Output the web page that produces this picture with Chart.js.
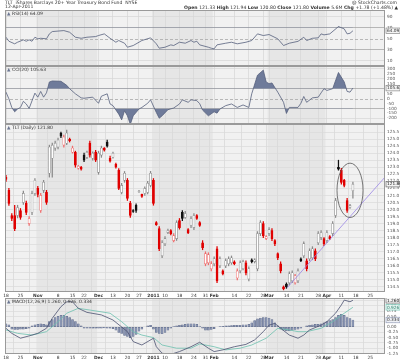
<!DOCTYPE html>
<html>
<head>
<meta charset="utf-8">
<script src="https://cdn.jsdelivr.net/npm/chart.js@4.4.1/dist/chart.umd.min.js"></script>
<style>
  html, body { margin: 0; padding: 0; background: #fff; }
  #wrap { position: relative; width: 400px; height: 361px; overflow: hidden; }
  #wrap canvas { position: absolute; left: 0; }
</style>
</head>
<body>
<div id="wrap">
  <canvas id="rsi" width="400" height="66" style="top:0px"></canvas>
  <canvas id="cci" width="400" height="58" style="top:66px"></canvas>
  <canvas id="price" width="400" height="175" style="top:124px"></canvas>
  <canvas id="macd" width="400" height="63" style="top:298px"></canvas>
</div>
<script>
// === TLT daily: RSI / CCI / candles / MACD ===

const F = '"DejaVu Sans", Arial, sans-serif';

// date axis (trading-day index -> label)
const tickIdx = [0, 5, 11, 18, 23, 27, 32, 37, 42, 46, 51, 55, 60, 65, 69, 72, 79, 84, 89, 91, 97, 102, 108, 111, 116, 121, 126];
const tickLabels = ['18', '25', 'Nov', '8', '15', '22', 'Dec', '13', '20', '27', '2011', '10', '18', '24', '31', 'Feb', '14', '22', '28', 'Mar', '14', '21', '28', 'Apr', '11', '18', '25'];
const monthIdx = [11, 32, 51, 72, 91, 111];

// daily candles
const opens = [122.29,121.36,119.57,119.57,119.57,119.93,120.50,120.43,119.00,119.79,121.14,121.50,119.93,121.36,121.21,122.57,123.64,124.36,124.43,125.43,124.57,124.71,125.00,124.07,124.07,122.93,123.00,123.86,123.71,124.71,123.64,124.07,122.64,123.86,124.36,124.79,123.64,123.71,123.21,122.79,121.21,122.07,122.07,120.43,119.93,120.29,121.25,121.07,121.14,121.21,121.71,122.07,119.07,118.64,116.71,117.57,118.36,118.50,117.79,117.93,119.21,119.79,119.43,118.57,118.86,118.71,119.57,119.07,117.64,116.14,116.21,115.79,116.14,117.21,116.00,115.64,116.00,116.14,116.21,116.29,115.14,115.64,115.79,116.21,115.07,116.43,116.30,115.79,118.29,119.00,117.93,118.29,118.50,117.79,116.86,116.14,114.50,114.71,114.79,114.93,114.79,114.93,116.50,116.71,116.36,116.50,116.57,117.07,117.64,118.00,117.93,117.79,118.07,118.29,119.57,123.00,122.79,122.07,120.64,120.14,121.33];
const highs = [122.43,121.50,119.70,120.29,120.30,120.07,121.30,120.60,119.50,121.30,122.20,121.64,121.14,122.07,121.36,124.57,124.71,124.86,125.07,125.50,125.29,125.64,125.07,124.50,124.14,123.14,123.07,124.00,124.14,124.86,124.10,124.20,124.14,124.50,124.40,124.93,123.79,124.07,123.30,122.90,121.86,122.70,122.20,120.57,120.00,120.40,121.36,121.10,121.60,122.00,122.71,122.20,119.14,118.79,117.79,118.07,118.60,118.57,118.29,119.20,119.36,119.93,119.86,118.64,119.50,119.71,119.64,119.14,117.79,117.00,116.93,116.30,116.64,117.36,116.64,115.71,116.50,116.64,116.70,116.36,115.79,116.36,116.40,116.36,115.93,116.50,116.50,118.43,119.21,119.14,118.14,118.71,118.64,117.86,116.93,116.29,114.57,114.79,115.57,115.64,115.40,115.79,116.57,117.71,116.50,117.21,117.36,117.21,118.43,118.50,118.00,118.50,118.14,119.14,120.79,123.50,122.93,122.14,120.79,120.36,121.94];
const lows = [122.00,120.29,119.20,118.50,119.40,119.30,120.36,119.64,118.86,119.64,121.00,120.90,119.79,121.20,120.36,122.30,122.29,124.20,124.30,125.10,124.43,124.60,124.79,124.00,123.00,122.86,122.79,123.40,123.60,123.71,123.50,123.40,122.50,123.70,124.14,124.43,123.36,123.64,122.93,121.40,121.10,121.93,120.64,119.43,119.79,119.80,121.21,120.86,121.00,121.10,121.60,120.30,118.86,117.07,116.57,117.43,118.29,118.20,117.70,117.80,118.60,119.20,119.36,118.29,118.71,118.57,119.29,118.79,117.14,116.00,116.07,115.64,116.00,114.80,115.86,115.36,115.86,116.00,116.10,116.07,115.00,115.50,115.70,115.36,114.93,116.20,116.20,115.64,118.14,118.00,117.86,118.14,117.79,117.43,116.43,115.50,114.29,114.40,114.64,114.80,114.70,114.80,116.29,116.57,115.64,116.36,116.43,116.36,117.50,117.86,117.43,117.64,117.86,118.14,119.43,122.79,121.80,121.60,119.79,120.07,120.80];
const closes = [122.14,120.43,119.36,118.64,120.14,119.43,121.14,119.79,119.36,121.14,122.07,121.07,121.00,121.93,120.50,124.43,124.57,124.71,124.93,125.21,125.14,125.43,124.86,124.36,123.14,123.07,122.86,123.50,124.07,123.86,124.00,123.50,124.00,124.36,124.21,124.50,123.43,124.00,123.00,121.50,121.71,122.57,120.79,119.57,119.86,119.93,121.30,120.93,121.50,121.86,122.57,120.43,118.93,117.21,117.64,117.93,118.50,118.29,118.14,119.07,118.71,119.36,119.71,118.36,119.36,119.57,119.36,118.86,117.29,116.86,116.79,116.14,116.50,114.93,116.50,115.43,116.36,116.50,116.57,116.14,115.64,116.21,116.30,115.50,115.79,116.30,116.43,118.29,119.07,118.14,118.07,118.57,117.93,117.57,116.57,115.64,114.36,114.50,115.43,115.50,115.29,115.64,116.36,117.57,115.79,117.07,117.21,116.50,118.29,118.36,117.57,118.36,117.93,119.00,120.64,122.86,121.93,121.71,119.93,120.29,121.80];

// trend line under the April rally
const trendIdx = [97.2, 131.1];
const trendVal = [114.43, 122.3];

// RSI(14)
const rsiDay = [0,1,3,4,6,7,8,9,10,11,12,14,15,16,20,22,24,26,28,31,32,34,36,38,39,41,42,44,46,47,50,52,53,55,57,58,60,62,64,65,66,67,70,71,72,73,76,78,80,83,85,87,89,91,94,96,98,101,103,104,106,108,109,110,112,115,117,118,119,120];
const rsiVal = [52.4,45.1,40.4,43.3,47.6,45.1,47.6,45.1,52.4,49.5,50.5,49.5,58.5,62.7,64.5,61.5,52.4,50.5,52.4,53.6,55.5,58.5,50.5,43.3,46.4,41.5,34.2,37.3,43.3,46.4,51.3,40.4,32.4,34.2,38.5,37.3,43.3,41.5,46.4,43.3,45.1,38.5,34.2,32.4,31.3,38.5,41.5,43.3,40.4,43.3,46.4,58.5,55.5,57.3,49.5,37.3,41.5,44.9,52.4,46.4,50.5,51.3,58.5,56.7,58.5,71.8,67.6,58.5,59.6,64.1];
const rsiTicks = [10, 30, 50, 70, 90];

// CCI(20)
const cciDay = [0,1,2,3,4,5,6,7,8,10,11,12,13,14,15,16,19,21,22,24,26,27,30,32,33,35,36,37,39,40,41,42,43,44,46,47,49,50,52,53,54,56,58,60,61,63,64,66,67,68,70,72,73,74,76,78,80,82,84,85,87,89,90,91,92,94,96,97,98,101,102,103,104,106,108,109,110,111,113,115,117,118,119,120];
const cciVal = [65,-3,-90,-134,-106,-90,-28,-55,-100,55,14,72,14,58,168,178,175,134,100,48,7,3,14,-48,24,48,-55,-72,-158,-216,-124,-175,-261,-175,-106,-90,-48,-13,-141,-199,-175,-113,-96,-55,-13,-38,-13,-21,-52,-117,-175,-134,-148,-106,-72,-55,-90,-65,-90,48,237,288,168,151,158,65,-38,-151,-90,-90,-48,21,-38,7,14,58,100,82,100,264,168,72,65,106];
const cciTicks = [-200, -150, -100, -50, 0, 50, 100, 150, 200, 250, 300];

// MACD(12,26,9)
const macdDay = [0,2,5,8,11,14,16,19,21,23,25,28,33,37,42,44,47,51,52,54,57,60,64,67,70,72,75,79,83,86,89,91,93,95,98,101,103,105,109,111,114,116,117,119,120];
const macdVal = [-0.06,-0.3,-0.53,-0.42,-0.3,-0.06,0.41,0.96,1.19,1.19,0.88,0.69,0.57,0.33,-0.22,-0.69,-0.85,-0.53,-0.93,-1.24,-1.29,-1.16,-0.93,-0.72,-1.0,-1.16,-1.08,-0.93,-0.82,-0.61,-0.22,0.09,0.17,-0.06,-0.38,-0.53,-0.38,-0.14,0.09,0.25,0.65,1.04,1.27,1.19,1.26];
const sigDay = [0,4,9,14,18,21,25,29,36,40,44,47,51,54,59,64,67,72,76,81,85,90,94,98,101,104,109,113,117,120];
const sigVal = [-0.14,-0.3,-0.38,-0.22,0.25,0.65,0.88,0.8,0.65,0.25,-0.22,-0.38,-0.5,-0.85,-1.0,-1.0,-0.8,-0.93,-1.08,-1.0,-0.85,-0.53,-0.06,-0.14,-0.22,-0.22,-0.06,0.25,0.65,0.93];
const histVal = [0.15,0.1,
  -0.1,-0.12,-0.12,-0.1,-0.1,-0.08,-0.05,
  0.05,0.1,0.12,0.15,0.12,0.1,
  0.25,0.35,0.45,0.5,0.55,0.55,0.5,0.45,
  0.35,0.25,0.15,0.05,
  -0.05,-0.05,-0.05,-0.06,-0.06,-0.05,-0.05,-0.04,-0.05,-0.06,-0.08,
  -0.15,-0.25,-0.3,-0.4,-0.45,-0.5,-0.45,-0.35,
  -0.2,-0.1,0,0.05,0.08,
  -0.1,-0.25,-0.3,-0.32,-0.25,-0.15,
  -0.05,0.02,0.05,0.08,0.1,0.12,0.15,0.15,0.15,0.12,
  0.02,-0.05,-0.15,-0.15,-0.12,-0.08,
  0,0.02,0.03,0.05,0.06,0.07,0.08,0.08,0.08,0.1,0.1,0.12,
  0.2,0.3,0.38,0.42,0.45,0.45,0.42,0.35,0.2,0.05,
  -0.1,-0.15,-0.18,-0.18,-0.15,-0.12,-0.1,
  -0.05,0,0.05,0.08,0.1,0.12,0.12,0.15,
  0.2,0.25,0.3,0.35,0.45,0.55,0.6,0.55,0.45,0.4,0.33];
const macdTicks = [-1.25, -1.0, -0.75, -0.5, -0.25, 0, 0.25, 0.5, 0.75, 1.0, 1.25];

// ---------------------------------------------------------------
const X_MIN = -0.35, X_MAX = 131.1;
const days = closes.map((_, i) => i);
const pts = (xs, ys) => xs.map((x, i) => ({ x, y: ys[i] }));

const upDay = closes.map((c, i) => c >= (i ? closes[i - 1] : opens[i]));
const hollow = closes.map((c, i) => c > opens[i]);
const edge = upDay.map((u, i) => u ? (hollow[i] ? '#8a8a8a' : '#111111') : (hollow[i] ? '#ef6b6b' : '#e00000'));

// panel background, month bands, label, value boxes
const panelPlugin = {
  id: 'panel',
  beforeDraw(chart, args, o) {
    const { ctx, chartArea: a, scales: { x } } = chart;
    ctx.save();
    ctx.fillStyle = '#f1f1f1';
    ctx.fillRect(a.left, a.top, a.width, a.height);
    ctx.fillStyle = '#e6e6e6';
    for (let k = 0; k + 1 < monthIdx.length; k += 2) {
      const x0 = x.getPixelForValue(monthIdx[k] - 0.5);
      const x1 = x.getPixelForValue(monthIdx[k + 1] - 0.5);
      ctx.fillRect(x0, a.top, x1 - x0, a.height);
    }
    if (o.header) drawHeader(ctx);
    ctx.restore();
  },
  beforeDatasetsDraw(chart, args, o) {
    if (o.dashAt === undefined) return;
    const { ctx, chartArea: a, scales: { y } } = chart;
    const py = Math.round(y.getPixelForValue(o.dashAt)) + 0.5;
    ctx.save();
    ctx.strokeStyle = '#a8a8a8';
    ctx.lineWidth = 0.8;
    ctx.setLineDash([3, 2]);
    ctx.beginPath(); ctx.moveTo(a.left, py); ctx.lineTo(a.right, py); ctx.stroke();
    ctx.restore();
  },
  afterDatasetsDraw(chart, args, o) {
    if (!o.ellipse) return;
    const { ctx, scales: { x, y } } = chart;
    const e = o.ellipse;
    const cx = x.getPixelForValue(e[0]), cy = y.getPixelForValue(e[1]);
    const rx = x.getPixelForValue(e[0] + e[2]) - cx, ry = cy - y.getPixelForValue(e[1] + e[3]);
    ctx.save();
    ctx.strokeStyle = '#555';
    ctx.lineWidth = 0.8;
    ctx.beginPath(); ctx.ellipse(cx, cy, rx, ry, 0, 0, Math.PI * 2); ctx.stroke();
    ctx.restore();
  },
  afterDraw(chart, args, o) {
    const { ctx, chartArea: a, scales: { y } } = chart;
    ctx.save();
    ctx.strokeStyle = '#9a9a9a';
    ctx.lineWidth = 1;
    ctx.strokeRect(a.left + 0.5, a.top + 0.5, a.width - 1, a.height - 1);
    ctx.textBaseline = 'middle';
    ctx.font = '4.5px ' + F;
    ctx.fillStyle = '#6a7590';
    ctx.fillText('\u25B2', a.left + 2, a.top + 3.5);
    ctx.fillStyle = '#333';
    ctx.fillText(o.label, a.left + 7, a.top + 3.5);
    (o.boxes || []).forEach(b => {
      const py = y.getPixelForValue(b.value);
      ctx.fillStyle = b.fill;
      ctx.fillRect(a.right + 1, py - 2.8, 14, 5.6);
      ctx.strokeStyle = b.stroke;
      ctx.lineWidth = 0.6;
      ctx.strokeRect(a.right + 1, py - 2.8, 14, 5.6);
      ctx.fillStyle = b.color;
      ctx.font = '4.3px ' + F;
      ctx.fillText(b.text, a.right + 2, py + 0.2);
    });
    ctx.restore();
  }
};

function drawHeader(ctx) {
  ctx.textBaseline = 'middle';
  ctx.fillStyle = '#333';
  ctx.font = '4.6px ' + F;
  ctx.fillText('TLT  iShares Barclays 20+ Year Treasury Bond Fund  NYSE', 5, 3);
  ctx.fillText('12-Apr-2011', 5, 7);
  ctx.textAlign = 'right';
  ctx.fillText('@ StockCharts.com', 397, 3);
  ctx.textAlign = 'left';
  const parts = [['Open ', 1], ['121.33 ', 0], ['High ', 1], ['121.94 ', 0], ['Low ', 1], ['120.80 ', 0],
    ['Close ', 1], ['121.80 ', 0], ['Volume ', 1], ['5.6M ', 0], ['Chg ', 1], ['+1.78 (+1.48%) \u25B2', 0]];
  const font = b => (b ? 'bold ' : '') + '4.6px ' + F;
  let w = 0;
  parts.forEach(p => { ctx.font = font(p[1]); w += ctx.measureText(p[0]).width; });
  let px = 398 - w;
  parts.forEach(p => { ctx.font = font(p[1]); ctx.fillText(p[0], px, 7.5); px += ctx.measureText(p[0]).width; });
}

function xAxis(show) {
  return {
    type: 'linear', min: X_MIN, max: X_MAX, offset: false,
    afterBuildTicks: s => { s.ticks = tickIdx.map(v => ({ value: v })); },
    afterFit: s => { s.height = show ? 7 : 0; s.paddingLeft = 0; s.paddingRight = 0; },
    border: { display: false },
    grid: { color: '#d6d6d6', lineWidth: 0.7, drawTicks: false },
    ticks: {
      display: show, autoSkip: false, maxRotation: 0, padding: 1.5, color: '#333',
      font: c => ({ size: 4.4, family: F, weight: (isNaN(tickLabels[c.index]) || tickLabels[c.index].length === 4) ? 'bold' : 'normal' }),
      callback: (v, i) => tickLabels[i]
    }
  };
}

function yAxis(min, max, ticks, fmt, gridColor) {
  return {
    position: 'right', min, max,
    afterBuildTicks: s => { s.ticks = ticks.map(v => ({ value: v })); },
    afterFit: s => { s.width = 15; s.paddingTop = 0; s.paddingBottom = 0; },
    border: { display: false },
    grid: { color: gridColor, lineWidth: 0.7, drawTicks: false },
    ticks: { autoSkip: false, padding: 2, color: '#555', font: { size: 4.3, family: F }, callback: fmt }
  };
}

const base = {
  responsive: false, animation: false,
  events: [],
  plugins: { legend: { display: false }, tooltip: { enabled: false } }
};

function lineSet(xs, ys, color, extra) {
  return Object.assign({ type: 'line', data: pts(xs, ys), borderColor: color, borderWidth: 0.8,
    pointRadius: 0, tension: 0, fill: false }, extra || {});
}

// RSI panel (also carries the page header)
new Chart(document.getElementById('rsi'), {
  type: 'line',
  data: { datasets: [
    lineSet(rsiDay, rsiVal, '#56607c', { order: 0 }),
    lineSet(rsiDay, rsiVal, 'rgba(0,0,0,0)', { order: 1, borderWidth: 0,
      fill: { target: { value: 70 }, above: '#6f7b9a', below: 'rgba(0,0,0,0)' } }),
    lineSet(rsiDay, rsiVal, 'rgba(0,0,0,0)', { order: 2, borderWidth: 0,
      fill: { target: { value: 30 }, above: 'rgba(0,0,0,0)', below: '#6f7b9a' } })
  ] },
  options: Object.assign({}, base, {
    layout: { padding: { left: 5, right: 0, top: 10, bottom: 0 } },
    scales: {
      x: xAxis(false),
      y: yAxis(0, 102, rsiTicks, v => String(v),
        c => (c.tick.value === 50 ? 'rgba(0,0,0,0)' : (c.tick.value === 30 || c.tick.value === 70 ? '#9c9c9c' : '#d6d6d6')))
    },
    plugins: Object.assign({}, base.plugins, { panel: { header: true, label: 'RSI(14) 64.09', dashAt: 50,
      boxes: [{ value: 64.1, text: '64.09', fill: '#f4f4f4', stroke: '#777', color: '#333' }] } })
  }),
  plugins: [panelPlugin]
});

// CCI panel
new Chart(document.getElementById('cci'), {
  type: 'line',
  data: { datasets: [
    lineSet(cciDay, cciVal, '#56607c', { order: 0 }),
    lineSet(cciDay, cciVal, 'rgba(0,0,0,0)', { order: 1, borderWidth: 0,
      fill: { target: { value: 100 }, above: '#6f7b9a', below: 'rgba(0,0,0,0)' } }),
    lineSet(cciDay, cciVal, 'rgba(0,0,0,0)', { order: 2, borderWidth: 0,
      fill: { target: { value: -100 }, above: 'rgba(0,0,0,0)', below: '#6f7b9a' } })
  ] },
  options: Object.assign({}, base, {
    layout: { padding: { left: 5, right: 0, top: 0, bottom: 0 } },
    scales: {
      x: xAxis(false),
      y: yAxis(-258, 330, cciTicks, v => String(v),
        c => {
          const v = c.tick.value;
          if (v === 0 || v % 100 !== 0) return 'rgba(0,0,0,0)';
          return Math.abs(v) === 100 ? '#9c9c9c' : '#d6d6d6';
        })
    },
    plugins: Object.assign({}, base.plugins, { panel: { label: 'CCI(20) 105.63', dashAt: 0,
      boxes: [{ value: 106, text: '105.63', fill: '#f4f4f4', stroke: '#777', color: '#333' }] } })
  }),
  plugins: [panelPlugin]
});

// Price panel: candles drawn as floating bars (wick + body)
const priceTicks = [];
for (let k = 0; k <= 22; k++) priceTicks.push(114.5 + k * 0.5);
new Chart(document.getElementById('price'), {
  type: 'bar',
  data: { datasets: [
    { type: 'bar', order: 0, grouped: false, barThickness: 2.1, borderSkipped: false,
      data: days.map(i => ({ x: i, y: [opens[i], closes[i]] })),
      backgroundColor: days.map(i => hollow[i] ? '#ffffff' : edge[i]),
      borderColor: edge, borderWidth: 0.6 },
    { type: 'bar', order: 1, grouped: false, barThickness: 0.6,
      data: days.map(i => ({ x: i, y: [lows[i], highs[i]] })),
      backgroundColor: edge, borderWidth: 0 },
    lineSet(trendIdx, trendVal, '#9a86e6', { order: -1, borderWidth: 0.8 })
  ] },
  options: Object.assign({}, base, {
    layout: { padding: { left: 5, right: 0, top: 0, bottom: 0 } },
    scales: {
      x: xAxis(true),
      y: yAxis(114.14, 126.07, priceTicks, v => v.toFixed(1), '#dadada')
    },
    plugins: Object.assign({}, base.plugins, { panel: { label: 'TLT (Daily) 121.80',
      ellipse: [119, 121.36, 4.5, 1.93],
      boxes: [{ value: 121.8, text: '121.80', fill: '#f4f4f4', stroke: '#555', color: '#111' }] } })
  }),
  plugins: [panelPlugin]
});

// MACD panel
new Chart(document.getElementById('macd'), {
  type: 'bar',
  data: { datasets: [
    lineSet(macdDay, macdVal, '#4a5070', { order: 0 }),
    lineSet(sigDay, sigVal, '#6cc0ae', { order: 1 }),
    { type: 'bar', order: 2, grouped: false, barThickness: 2, borderSkipped: false,
      data: days.map(i => ({ x: i, y: histVal[i] })),
      backgroundColor: '#8a95b2', borderColor: '#5f6a88', borderWidth: 0.4 }
  ] },
  options: Object.assign({}, base, {
    layout: { padding: { left: 5, right: 0, top: 0, bottom: 0 } },
    scales: {
      x: xAxis(true),
      y: yAxis(-1.274, 1.368, macdTicks, v => v.toFixed(2), '#dadada')
    },
    plugins: Object.assign({}, base.plugins, { panel: { label: 'MACD(12,26,9) 1.260, 0.926, 0.334',
      boxes: [
        { value: 1.26, text: '1.260', fill: '#f4f4f4', stroke: '#555', color: '#111' },
        { value: 0.93, text: '0.926', fill: '#e6f5f1', stroke: '#6cc0ae', color: '#2a7f6c' },
        { value: 0.33, text: '0.334', fill: '#eef0f5', stroke: '#8a95b2', color: '#333' }
      ] } })
  }),
  plugins: [panelPlugin]
});
</script>
</body>
</html>
